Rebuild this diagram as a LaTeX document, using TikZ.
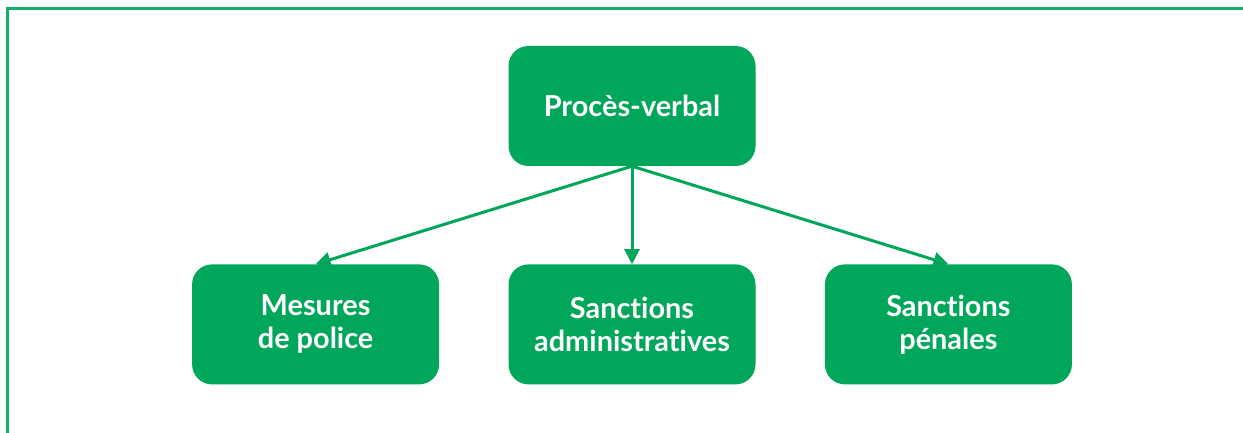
\documentclass[tikz,border=0pt]{standalone}
\usepackage{fontspec}
\setmainfont{Lato}[Ligatures={NoCommon,NoRare}]
\usepackage{tikz}
\usetikzlibrary{arrows.meta,positioning}

\definecolor{vertpv}{RGB}{0,166,90}
\definecolor{cadre}{RGB}{20,176,104}

\begin{document}
\begin{tikzpicture}[
                x=1bp, y=-1bp,
                box/.style={fill=vertpv, rounded corners=20bp, minimum width=247bp, minimum height=120bp, align=center, text=white, font=\fontsize{29}{33}\selectfont\bfseries, inner sep=0pt},
                arrow/.style={-{Triangle[length=15bp,width=15bp]}, line width=3bp, draw=vertpv},
                node distance=98bp and 69bp
            ]

            \useasboundingbox (0,0) rectangle (1243,433);
            \draw[cadre, line width=3bp] (7,433) -- (7,9) -- (1243,9);

            \node[box] (pv) at (632,106) {Procès-verbal};
            \node[box, below=of pv] (admin) {Sanctions\\administratives};
            \node[box, left=of admin] (police) {Mesures\\de police};
            \node[box, right=of admin] (penales) {Sanctions\\pénales};

            \draw[arrow] (pv.south) -- (police.north);
            \draw[arrow] (pv.south) -- (admin.north);
            \draw[arrow] (pv.south) -- (penales.north);

        \end{tikzpicture}
\end{document}
